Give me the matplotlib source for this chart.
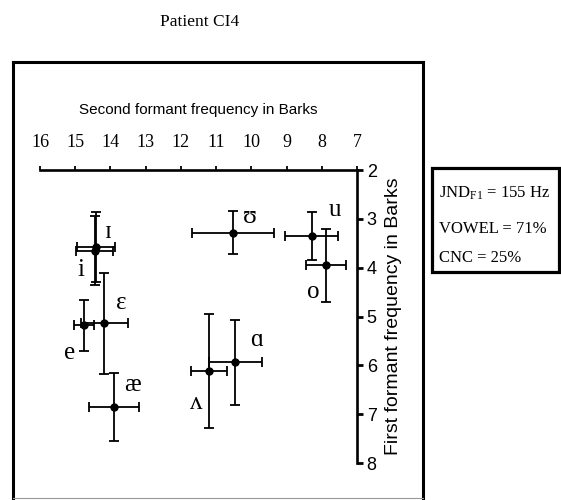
import matplotlib
matplotlib.use('Agg')
import matplotlib.pyplot as plt
from matplotlib import font_manager
from matplotlib.lines import Line2D
from matplotlib.patches import Rectangle

# ---- data ----
vowels = ['ɪ', 'i', 'ɛ', 'e', 'æ', 'ʌ', 'ɑ', 'ʊ', 'u', 'o']
f2 = [14.41, 14.45, 14.18, 14.75, 13.89, 11.19, 10.45, 10.52, 8.29, 7.89]
f1 = [3.58, 3.65, 5.14, 5.18, 6.85, 6.11, 5.94, 3.28, 3.35, 3.95]
f2_err = [0.55, 0.52, 0.67, 0.29, 0.71, 0.51, 0.76, 1.16, 0.74, 0.57]
f1_err = [0.72, 0.70, 1.03, 0.52, 0.70, 1.17, 0.87, 0.45, 0.50, 0.75]
label_f2 = [14.05, 14.84, 13.70, 15.17, 13.37, 11.55, 9.86, 10.05, 7.62, 8.24]
label_f1 = [3.26, 4.05, 4.73, 5.74, 6.41, 6.78, 5.48, 2.96, 2.82, 4.49]
x_ticks = [16, 15, 14, 13, 12, 11, 10, 9, 8, 7]
y_ticks = [2, 3, 4, 5, 6, 7, 8]
title = 'Patient CI4'
xlabel = 'Second formant frequency in Barks'
ylabel = 'First formant frequency in Barks'
info_lines = [r'JND$_{\mathrm{F1}}$ = 155 Hz', 'VOWEL = 71%', 'CNC = 25%']

# ---- fonts ----
SERIF = ['Liberation Serif', 'DejaVu Serif']
SANS = ['Liberation Sans', 'DejaVu Sans']
plt.rcParams['mathtext.fontset'] = 'custom'
plt.rcParams['mathtext.rm'] = 'Liberation Serif'
plt.rcParams['mathtext.it'] = 'Liberation Serif:italic'
plt.rcParams['mathtext.bf'] = 'Liberation Serif:bold'

W, H = 561, 500
fig = plt.figure(figsize=(W / 100, H / 100), dpi=100)


def fx(px):
    return px / W


def fy(py):
    return 1 - py / H


# main axes: x 40..357 px, y 170..463 px
ax = fig.add_axes([fx(40), fy(463), fx(357) - fx(40), fy(170) - fy(463)])
ax.set_xlim(16, 7)
ax.set_ylim(8, 2)

ax.errorbar(f2, f1, xerr=f2_err, yerr=f1_err, fmt='o', color='black',
            ms=5, elinewidth=1.3, capsize=3.5, capthick=1.3, zorder=3)
for v, lx, ly in zip(vowels, label_f2, label_f1):
    ax.text(lx, ly, v, ha='center', va='center', fontsize=18, family=SERIF)

for s in ('left', 'bottom'):
    ax.spines[s].set_visible(False)
for s in ('top', 'right'):
    ax.spines[s].set_linewidth(1.9)

ax.xaxis.set_ticks_position('top')
ax.xaxis.set_label_position('top')
ax.yaxis.set_ticks_position('right')
ax.yaxis.set_label_position('right')
ax.set_xticks(x_ticks, labels=[str(t) for t in x_ticks], fontsize=13, family=SERIF)
ax.set_yticks(y_ticks, labels=[str(t) for t in y_ticks], fontsize=13, family=SANS)
ax.tick_params(axis='x', direction='out', length=3, width=1.3, pad=11)
ax.tick_params(axis='y', direction='out', length=4, width=2, pad=3)

ax.set_xlabel(xlabel, fontsize=11, family=SANS)
ax.xaxis.set_label_coords(0.5, 1 + (170 - 114) / 293)
ax.set_ylabel(ylabel, fontsize=14, family=SANS, rotation=90)
ax.yaxis.set_label_coords((385 - 40) / 317, 0.5)

# title
fig.text(fx(200), fy(22), title, ha='center', va='center', fontsize=12.5, family=SERIF)

# outer frame
lw_frame = 2.2
fig.add_artist(Line2D([fx(13), fx(13)], [fy(62), fy(498)], color='black', lw=lw_frame))
fig.add_artist(Line2D([fx(13), fx(423)], [fy(62), fy(62)], color='black', lw=lw_frame))
fig.add_artist(Line2D([fx(423), fx(423)], [fy(62), fy(498)], color='black', lw=lw_frame))
fig.add_artist(Line2D([fx(13), fx(423)], [fy(498), fy(498)], color='#999999', lw=0.8))

# info box
fig.add_artist(Rectangle((fx(432), fy(272)), fx(559) - fx(432), fy(168) - fy(272),
                         fill=False, edgecolor='black', lw=2.3))
for line, base in zip(info_lines, [198, 233, 262]):
    fig.text(fx(439), fy(base), line, ha='left', va='baseline', fontsize=12, family=SERIF)

fig.savefig('out.png', dpi=100)
